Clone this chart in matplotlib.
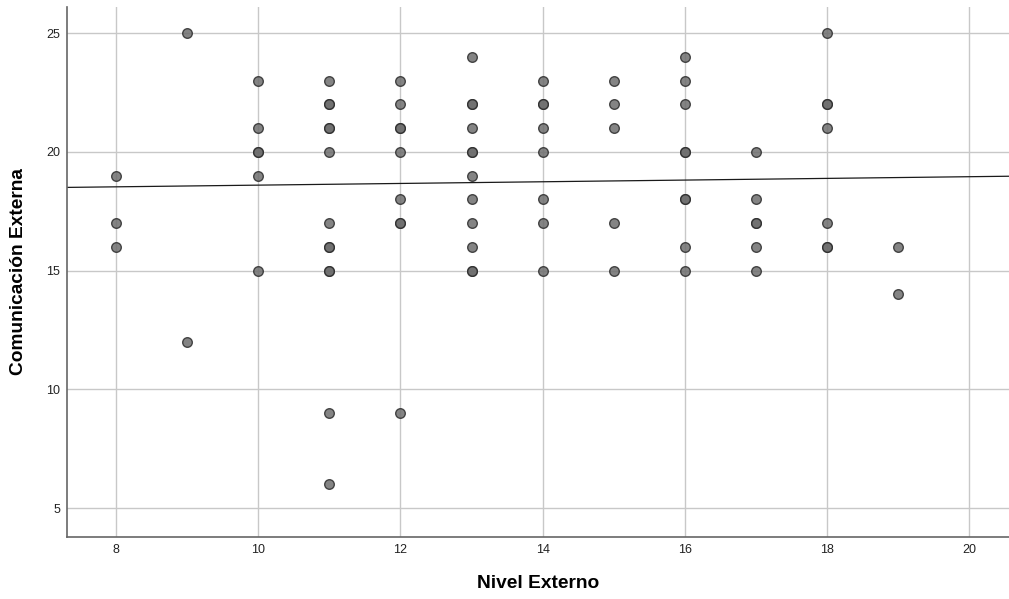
import matplotlib
matplotlib.use("Agg")
import matplotlib.pyplot as plt
import numpy as np

plt.rcParams['font.family'] = ['Liberation Sans', 'DejaVu Sans']

# Nivel Externo (x) vs Comunicación Externa (y); repeated pairs are overlapping cases
nivel = [8, 8, 8,
         9, 9,
         10, 10, 10, 10, 10, 10,
         11, 11, 11, 11, 11, 11, 11, 11, 11, 11, 11, 11, 11,
         12, 12, 12, 12, 12, 12, 12, 12, 12,
         13, 13, 13, 13, 13, 13, 13, 13, 13, 13, 13, 13,
         14, 14, 14, 14, 14, 14, 14, 14,
         15, 15, 15, 15, 15,
         16, 16, 16, 16, 16, 16, 16, 16, 16,
         17, 17, 17, 17, 17, 17,
         18, 18, 18, 18, 18, 18, 18,
         19, 19]
comunicacion = [19, 17, 16,
                25, 12,
                23, 21, 20, 20, 19, 15,
                23, 22, 22, 21, 21, 20, 17, 16, 16, 15, 15, 9, 6,
                23, 22, 21, 21, 20, 18, 17, 17, 9,
                24, 22, 22, 21, 20, 20, 19, 18, 17, 16, 15, 15,
                23, 22, 22, 21, 20, 18, 17, 15,
                23, 22, 21, 17, 15,
                24, 23, 22, 20, 20, 18, 18, 16, 15,
                20, 18, 17, 17, 16, 15,
                25, 22, 22, 21, 17, 16, 16,
                16, 14]

# fit line as drawn in the reference (y = a + b*x)
fit_intercept = 18.24
fit_slope = 0.0355

x_ticks = [8, 10, 12, 14, 16, 18, 20]
y_ticks = [5, 10, 15, 20, 25]

fig = plt.figure(figsize=(10.09, 5.99), dpi=100)
ax = fig.add_axes([0.0664, 0.1035, 0.9336, 0.885])

ax.grid(True, color='#c8c8c8', linewidth=1.0)
ax.set_axisbelow(True)

ax.scatter(nivel, comunicacion, s=48, facecolor='#6e6e6e', edgecolor='#2e2e2e',
           linewidth=1.0, alpha=0.85, zorder=3)

xl = np.array([7.31, 20.56])
ax.plot(xl, fit_intercept + fit_slope * xl, color='#1a1a1a', linewidth=0.9, zorder=2)

ax.set_xlim(7.31, 20.56)
ax.set_ylim(3.78, 26.1)
ax.set_xticks(x_ticks)
ax.set_yticks(y_ticks)
ax.tick_params(length=0, labelsize=9, colors='#222222', pad=5)

for side in ['top', 'right']:
    ax.spines[side].set_visible(False)
for side in ['left', 'bottom']:
    ax.spines[side].set_color('#666666')
    ax.spines[side].set_linewidth(1.2)

ax.set_xlabel('Nivel Externo', fontsize=13.8, fontweight='bold', va='center')
ax.set_ylabel('Comunicación Externa', fontsize=13.8, fontweight='bold', va='center')
ax.xaxis.set_label_coords(0.5, -0.087)
ax.yaxis.set_label_coords(-0.052, 0.5)

fig.savefig('out.png', dpi=100)
